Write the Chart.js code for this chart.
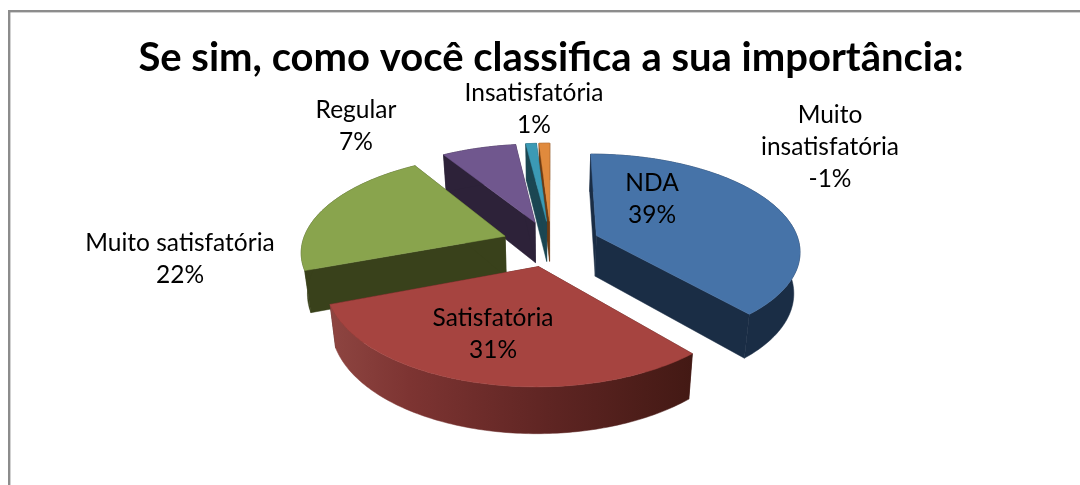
<!DOCTYPE html>
<html lang="pt">
<head>
<meta charset="utf-8">
<title>Se sim, como você classifica a sua importância:</title>
<style>
html,body{margin:0;padding:0;background:#fff;}
#wrap{position:relative;width:1080px;height:485px;overflow:hidden;}
canvas{display:block;}
</style>
<script src="https://cdn.jsdelivr.net/npm/chart.js@4"></script>
</head>
<body>
<div id="wrap"><canvas id="c" width="1080" height="485"></canvas></div>
<script>
const chartTitle = "Se sim, como você classifica a sua importância:";
const categories = ["NDA","Satisfatória","Muito satisfatória","Regular","Insatisfatória","Muito insatisfatória"];
const sliceValues = [39,31,22,7,1,1];
const percentLabels = ["39%","31%","22%","7%","1%","-1%"];

const topColors  = ["#4673a8","#a64440","#89a44d","#70578e","#3b9ab5","#e08a3d"];
const wallColors = ["#1a2d45","#451a16","#39411b","#2d2239","#1b4652","#6e3b12"];

// Label placement, kept apart from the data: [centre x, first line centre y], and its wrapped lines.
const labelLayout = [
  {x:652,y:183,lines:["NDA"]},
  {x:493,y:318,lines:["Satisfatória"]},
  {x:180,y:243,lines:["Muito satisfatória"]},
  {x:356,y:110,lines:["Regular"]},
  {x:534,y:93,lines:["Insatisfatória"]},
  {x:830,y:115,lines:["Muito","insatisfatória"]}
];

const SQUASH = 0.47, PERSP = 0.145, DEPTH = 41, DEPTH_PERSP = 0.65, BASE_SHRINK = 0.975;

const pie3d = {
  id:'pie3d',
  beforeDraw(chart){
    const {ctx} = chart;
    ctx.save();
    ctx.fillStyle = '#8c8c8c';
    ctx.fillRect(8,10,1072,2.4);
    ctx.fillRect(8,10,2.4,475);
    ctx.restore();
  },
  beforeDatasetDraw(chart,args){
    const {ctx} = chart;
    const arcs = chart.getDatasetMeta(args.index).data;
    const top = (el,px,py)=>{
      const R = el.outerRadius, X = (px-el.x)/R, Y = (py-el.y)/R, s = 1/(1-PERSP*Y);
      return {x:el.x+R*X*s, y:el.y+R*SQUASH*Y*s, s};
    };
    const base = (el,p)=>({
      x: el.x+(p.x-el.x)*BASE_SHRINK,
      y: p.y+DEPTH*(1+DEPTH_PERSP*(p.s-1))
    });
    const shapes = arcs.map((el,i)=>{
      const mid = (el.startAngle+el.endAngle)/2, off = (el.options.offset||0)/4;
      const ax = el.x+Math.cos(mid)*off, ay = el.y+Math.sin(mid)*off;
      const apex = top(el,ax,ay), rim = [];
      const n = Math.max(4,Math.ceil((el.endAngle-el.startAngle)*60));
      for(let k=0;k<=n;k++){
        const a = el.startAngle+(el.endAngle-el.startAngle)*k/n;
        rim.push(top(el,ax+Math.cos(a)*el.outerRadius,ay+Math.sin(a)*el.outerRadius));
      }
      return {el,i,apex,rim};
    }).sort((a,b)=>a.apex.y-b.apex.y);

    const fillPoly = (pts,style)=>{
      ctx.beginPath();
      pts.forEach((p,j)=> j?ctx.lineTo(p.x,p.y):ctx.moveTo(p.x,p.y));
      ctx.closePath();
      ctx.fillStyle = style; ctx.strokeStyle = style; ctx.lineWidth = 0.5;
      ctx.fill(); ctx.stroke();
    };
    shapes.forEach(({el,i,apex,rim})=>{
      const wall = wallColors[i];
      const a0 = rim[0], a1 = rim[rim.length-1];
      fillPoly([apex,a0,base(el,a0),base(el,apex)],wall);
      fillPoly([apex,a1,base(el,a1),base(el,apex)],wall);
      let rimStyle = wall;
      if(i===1){
        const g = ctx.createLinearGradient(a1.x,0,a0.x,0);
        g.addColorStop(0,'#8e4541');
        g.addColorStop(0.22,'#7d3432');
        g.addColorStop(0.6,'#5f2523');
        g.addColorStop(1,'#431914');
        rimStyle = g;
      }
      fillPoly(rim.concat(rim.slice().reverse().map(p=>base(el,p))),rimStyle);
      fillPoly([apex].concat(rim),topColors[i]);
    });
    return false;
  },
  afterDatasetsDraw(chart){
    const {ctx} = chart;
    ctx.save();
    ctx.fillStyle = '#000';
    ctx.font = '24.5px Lato, Carlito, sans-serif';
    ctx.textAlign = 'center';
    ctx.textBaseline = 'middle';
    labelLayout.forEach((l,i)=>{
      l.lines.concat([percentLabels[i]]).forEach((t,j)=>ctx.fillText(t,l.x,l.y+j*32));
    });
    ctx.restore();
  }
};

new Chart(document.getElementById('c'),{
  type:'pie',
  data:{labels:categories,datasets:[{
    data:sliceValues,
    backgroundColor:topColors,
    borderWidth:0,
    offset:196
  }]},
  options:{
    responsive:false,
    animation:false,
    radius:203,
    layout:{padding:{left:22,top:0,right:0,bottom:80}},
    events:[],
    plugins:{
      legend:{display:false},
      tooltip:{enabled:false},
      title:{
        display:true,
        text:chartTitle,
        color:'#000',
        font:{family:'Lato, Carlito, sans-serif',size:40,weight:'bold'},
        padding:{top:34,bottom:0}
      }
    }
  },
  plugins:[pie3d]
});
</script>
</body>
</html>
